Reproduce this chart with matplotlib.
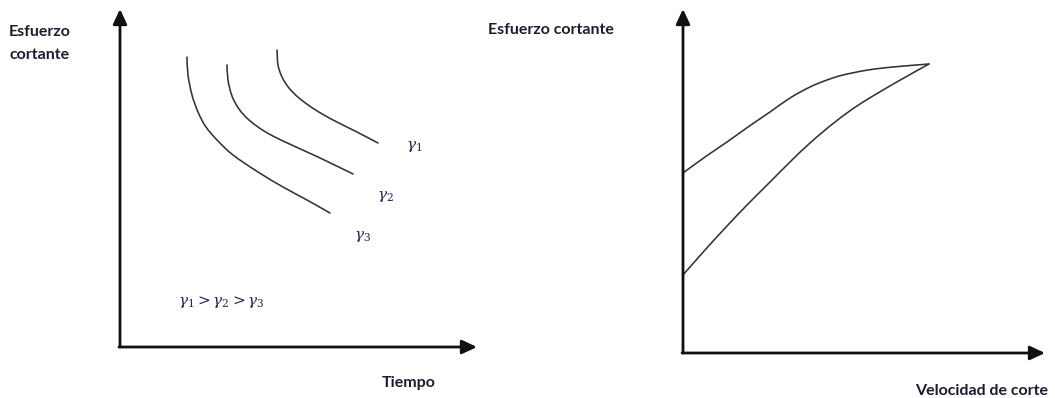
import matplotlib
matplotlib.use("Agg")
import matplotlib.pyplot as plt
from matplotlib.path import Path
from matplotlib.patches import PathPatch
import numpy as np

plt.rcParams["mathtext.fontset"] = "dejavuserif"

# ---- data (in pixel units of the 1055x398 canvas) ----
# Left panel: thixotropy curves (shear stress vs time) for three shear rates
g1_x = [277, 278, 282, 289, 299, 314, 333, 355, 378]
g1_y = [50, 65, 77, 88, 98, 109, 120, 131, 143]
g2_x = [227, 228, 232, 239, 249, 264, 283, 318, 353]
g2_y = [65, 80, 96, 109, 120, 131, 141, 157, 174]
g3_x = [187, 188, 192, 198, 206, 218, 233, 258, 283, 307, 330]
g3_y = [57, 75, 95, 112, 127, 141, 155, 172, 187, 200, 213]
curve_labels = [r"$\gamma_1$", r"$\gamma_2$", r"$\gamma_3$"]

# Right panel: hysteresis loop (shear stress vs shear rate)
up_x = [683, 705, 727, 748, 770, 790, 810, 827, 843, 868, 893, 929]
up_y = [173, 157, 142, 127, 112, 98, 87, 80, 75, 70, 67, 64]
lo_x = [683, 705, 727, 748, 770, 790, 810, 835, 860, 895, 929]
lo_y = [275, 250, 226, 204, 182, 162, 143, 122, 104, 83, 64]

W, H = 1055, 398
fig = plt.figure(figsize=(W / 100, H / 100), dpi=100)
ax = fig.add_axes([0, 0, 1, 1])
ax.set_xlim(0, W)
ax.set_ylim(H, 0)
ax.axis("off")

axis_col = "#111111"
curve_col = "#333333"
label_col = "#1c1c30"
gamma_col = "#1f2550"


def smooth_path(xs, ys):
    """Render the read points as a smooth Catmull-Rom curve (Bezier path)."""
    p = np.column_stack([xs, ys]).astype(float)
    verts = [p[0]]
    codes = [Path.MOVETO]
    n = len(p)
    for i in range(n - 1):
        p0 = p[i - 1] if i > 0 else p[i]
        p1, p2 = p[i], p[i + 1]
        p3 = p[i + 2] if i + 2 < n else p[i + 1]
        c1 = p1 + (p2 - p0) / 6.0
        c2 = p2 - (p3 - p1) / 6.0
        verts += [c1, c2, p2]
        codes += [Path.CURVE4] * 3
    return Path(verts, codes)


def draw_curve(xs, ys):
    ax.add_patch(PathPatch(smooth_path(xs, ys), facecolor="none",
                           edgecolor=curve_col, lw=1.15, capstyle="round"))


def axis_arrow(x0, y0, x1, y1):
    ax.annotate("", xy=(x1, y1), xytext=(x0, y0),
                arrowprops=dict(arrowstyle="-|>,head_length=0.9,head_width=0.42",
                                lw=2.0, color=axis_col, mutation_scale=10,
                                shrinkA=0, shrinkB=0))

# left axes
axis_arrow(120, 347, 120, 9)
axis_arrow(119, 347, 477, 347)
# right axes
axis_arrow(683, 353, 683, 9)
axis_arrow(682, 353, 1045, 353)

# curves
for xs, ys in [(g1_x, g1_y), (g2_x, g2_y), (g3_x, g3_y)]:
    draw_curve(xs, ys)
draw_curve(up_x, up_y)
draw_curve(lo_x, lo_y)

# gamma labels
gfs = 11
ax.text(406, 147, curve_labels[0], fontsize=gfs, color=gamma_col,
        ha="left", va="center")
ax.text(377, 197, curve_labels[1], fontsize=gfs, color=gamma_col,
        ha="left", va="center")
ax.text(354, 236, curve_labels[2], fontsize=gfs, color=gamma_col,
        ha="left", va="center")
ax.text(178, 302, r"$\gamma_1 > \gamma_2 > \gamma_3$", fontsize=gfs,
        color=gamma_col, ha="left", va="center")

# axis titles
tfs = 11.5
tkw = dict(fontsize=tfs, color=label_col, family="Lato", fontweight="bold")
ax.text(9, 32, "Esfuerzo", ha="left", va="center", **tkw)
ax.text(9, 55, "cortante", ha="left", va="center", **tkw)
ax.text(409, 383, "Tiempo", ha="center", va="center", **tkw)
ax.text(488, 30, "Esfuerzo cortante", ha="left", va="center", **tkw)
ax.text(915, 391, "Velocidad de corte", ha="left", va="center", **tkw)

fig.savefig("out.png", dpi=100, facecolor="white")
